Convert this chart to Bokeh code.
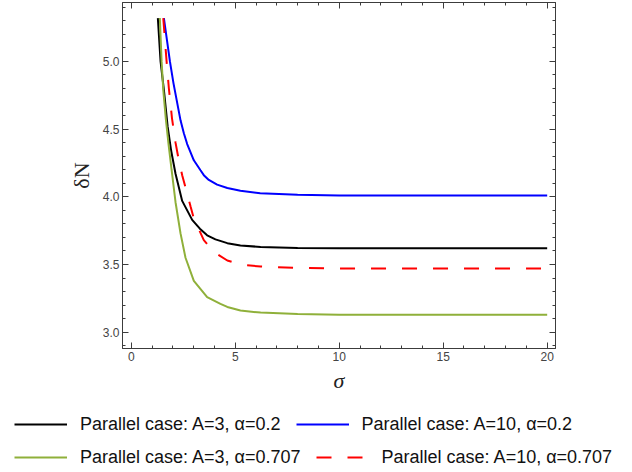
from bokeh.plotting import figure
from bokeh.models import (Legend, LegendItem, LinearAxis, FixedTicker,
                          NumeralTickFormatter, Range1d, CustomLabelingPolicy)
from bokeh.embed import file_html
from bokeh.resources import INLINE

# ---- data ----
sigma_a3_02 = [1.28, 1.41, 1.57, 1.75, 1.92, 2.13, 2.45, 2.93, 3.30, 3.65, 4.05, 4.62, 5.25, 6.22, 8.0, 10.0, 15.0, 20.0]
dN_a3_02 = [5.32, 5.00, 4.79, 4.52, 4.34, 4.17, 3.97, 3.83, 3.765, 3.716, 3.686, 3.658, 3.64, 3.63, 3.622, 3.62, 3.62, 3.62]

sigma_a10_02 = [1.57, 1.86, 2.03, 2.37, 2.53, 2.69, 3.01, 3.33, 3.49, 3.73, 4.13, 4.62, 5.25, 6.2, 8.0, 10.0, 15.0, 20.0]
dN_a10_02 = [5.32, 5.00, 4.84, 4.565, 4.47, 4.39, 4.27, 4.196, 4.16, 4.125, 4.09, 4.065, 4.045, 4.026, 4.015, 4.01, 4.01, 4.01]

sigma_a3_0707 = [1.375, 1.46, 1.54, 1.66, 1.80, 1.94, 2.13, 2.37, 2.61, 3.01, 3.65, 4.29, 4.62, 5.25, 6.22, 8.0, 10.0, 15.0, 20.0]
dN_a3_0707 = [5.32, 5.00, 4.79, 4.58, 4.38, 4.20, 3.96, 3.73, 3.55, 3.38, 3.26, 3.21, 3.187, 3.16, 3.145, 3.135, 3.13, 3.13, 3.13]

sigma_a10_0707 = [1.54, 1.70, 1.81, 1.96, 2.13, 2.30, 2.45, 2.85, 3.01, 3.49, 4.00, 4.62, 5.25, 6.22, 8.0, 10.0, 15.0, 20.0]
dN_a10_0707 = [5.32, 5.00, 4.80, 4.58, 4.40, 4.26, 4.16, 3.93, 3.84, 3.68, 3.59, 3.53, 3.50, 3.485, 3.475, 3.47, 3.47, 3.47]

labels = ["Parallel case: A=3, \u03b1=0.2", "Parallel case: A=10, \u03b1=0.2",
          "Parallel case: A=3, \u03b1=0.707", "Parallel case: A=10, \u03b1=0.707"]

x_major = [0, 5, 10, 15, 20]
x_minor = list(range(0, 21))
y_major = [3.0, 3.5, 4.0, 4.5, 5.0]
y_minor = [2.9, 3.0, 3.1, 3.2, 3.3, 3.4, 3.5, 3.6, 3.7, 3.8, 3.9, 4.0, 4.1, 4.2,
           4.3, 4.4, 4.5, 4.6, 4.7, 4.8, 4.9, 5.0, 5.1, 5.2, 5.3, 5.4]

FRAME = "#3c3c3c"
GREEN = "#8fb03a"
BLUE = "#0000ff"
RED = "#ff0000"

p = figure(frame_width=433, frame_height=346,
           min_border_left=122, min_border_right=75,
           min_border_top=2, min_border_bottom=56,
           x_range=Range1d(-0.42, 20.4), y_range=Range1d(2.88, 5.435),
           output_backend="svg", toolbar_location=None,
           x_axis_label="\u03c3", y_axis_label="\u03b4N")
p.grid.visible = False
p.outline_line_color = FRAME

xt = FixedTicker(ticks=x_major, minor_ticks=x_minor)
yt = FixedTicker(ticks=y_major, minor_ticks=y_minor)

no_labels = CustomLabelingPolicy(code="""
const n = indices.size;
for (let i = 0; i < n; i++) { indices.unset(i); }
return indices;
""")

def style_axis(ax, ticker, show_labels):
    ax.ticker = ticker
    ax.axis_line_color = FRAME
    ax.major_tick_line_color = FRAME
    ax.minor_tick_line_color = FRAME
    ax.major_tick_in = 6
    ax.major_tick_out = 0
    ax.minor_tick_in = 3
    ax.minor_tick_out = 0
    if show_labels:
        ax.major_label_text_font = "Liberation Sans"
        ax.major_label_text_font_size = "12px"
        ax.major_label_text_color = "#444444"
        ax.major_label_standoff = 3
    else:
        ax.major_label_policy = no_labels
        ax.major_label_text_font_size = "0px"
        ax.major_label_standoff = 0

style_axis(p.xaxis[0], xt, True)
style_axis(p.yaxis[0], yt, True)
p.yaxis[0].formatter = NumeralTickFormatter(format="0.0")
p.xaxis[0].formatter = NumeralTickFormatter(format="0")

p.xaxis[0].axis_label_text_font = "Liberation Serif"
p.xaxis[0].axis_label_text_font_style = "italic"
p.xaxis[0].axis_label_text_font_size = "22px"
p.xaxis[0].axis_label_text_color = "#222222"
p.xaxis[0].axis_label_standoff = 4

p.yaxis[0].axis_label_text_font = "Liberation Serif"
p.yaxis[0].axis_label_text_font_style = "normal"
p.yaxis[0].axis_label_text_font_size = "22px"
p.yaxis[0].axis_label_text_color = "#222222"
p.yaxis[0].axis_label_standoff = 6

top_ax = LinearAxis()
style_axis(top_ax, xt, False)
p.add_layout(top_ax, "above")
right_ax = LinearAxis()
style_axis(right_ax, yt, False)
p.add_layout(right_ax, "right")

p.line(sigma_a3_02, dN_a3_02, line_color="black", line_width=2)
p.line(sigma_a10_02, dN_a10_02, line_color=BLUE, line_width=2)
p.line(sigma_a3_0707, dN_a3_0707, line_color=GREEN, line_width=2)
p.line(sigma_a10_0707, dN_a10_0707, line_color=RED, line_width=2, line_dash="15 16")

# ---- legend strip below the plot (separate root, its frame spans the full width) ----
lf = figure(width=630, height=66, min_border=0, x_axis_type=None, y_axis_type=None,
            x_range=Range1d(0, 1), y_range=Range1d(0, 1),
            output_backend="svg", toolbar_location=None)
lf.outline_line_color = None
lf.grid.visible = False
nan = float("nan")
k1 = lf.line(x=[nan], y=[nan], line_color="black", line_width=2)
k2 = lf.line(x=[nan], y=[nan], line_color=BLUE, line_width=2)
k3 = lf.line(x=[nan], y=[nan], line_color=GREEN, line_width=2)
k4 = lf.line(x=[nan], y=[nan], line_color=RED, line_width=2, line_dash="15 16")

def make_legend(items, loc):
    lg = Legend(items=items, orientation="horizontal", location=loc)
    lg.border_line_alpha = 0
    lg.background_fill_alpha = 0
    lg.padding = 0
    lg.margin = 0
    lg.spacing = 15
    lg.label_standoff = 13
    lg.glyph_width = 53
    lg.glyph_height = 22
    lg.label_height = 22
    lg.label_text_font = "Liberation Sans"
    lg.label_text_font_size = "18px"
    lg.label_text_color = "#111111"
    return lg

lf.add_layout(make_legend([LegendItem(label=labels[0], renderers=[k1]),
                           LegendItem(label=labels[1], renderers=[k2])], (14, 35)))
lf.add_layout(make_legend([LegendItem(label=labels[2], renderers=[k3]),
                           LegendItem(label=labels[3], renderers=[k4])], (14, 2)))

open("out.html", "w").write(file_html([p, lf], INLINE))
